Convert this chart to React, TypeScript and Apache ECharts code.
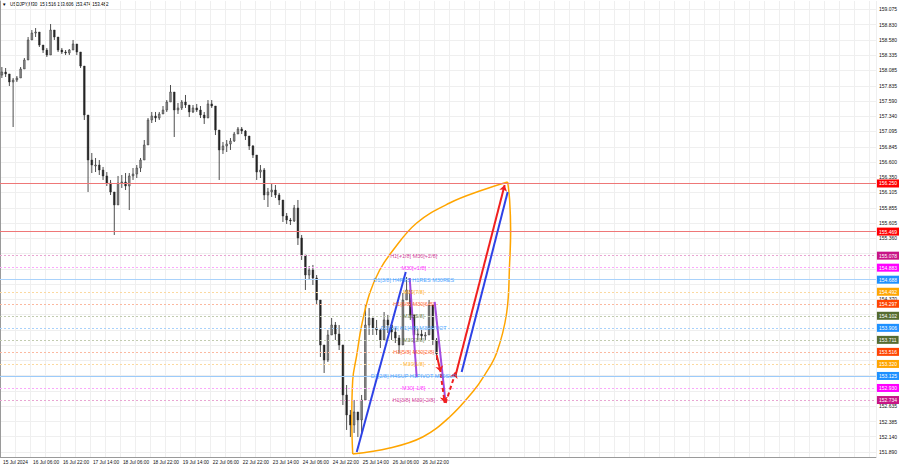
import React, { useEffect, useRef } from "react";
import * as echarts from "echarts";

// ---- price data (aggregated 4 x M30 bars per candle) ----
const firstOpen = 158.01;
const barsPerCandle = 4;
const candleHigh = [
  158.141, 158.125, 157.995, 157.963, 157.995, 158.141, 158.287, 158.628, 158.742, 158.774,
  158.612, 158.498, 158.45, 158.839, 158.709, 158.58, 158.45, 158.417, 158.433, 158.58,
  158.466, 158.287, 158.011, 157.118, 156.745, 156.664, 156.631, 156.518, 156.436, 156.307,
  156.063, 156.372, 156.388, 156.42, 156.42, 156.501, 156.55, 156.664, 156.956, 157.313,
  157.411, 157.411, 157.411, 157.508, 157.605, 157.849, 157.605, 157.557, 157.605, 157.687,
  157.508, 157.524, 157.541, 157.508, 157.411, 157.605, 157.605, 157.443, 156.956, 156.924,
  156.956, 156.988, 157.086, 157.167, 157.167, 157.118, 156.988, 156.875, 156.68, 156.55,
  156.501, 156.177, 156.242, 156.225, 156.096, 155.901, 155.771, 155.69, 155.901, 155.982,
  155.414, 155.008, 154.91, 154.927, 154.764, 154.196, 153.628, 153.871, 154.066, 154.001,
  153.952, 153.628, 152.978, 152.572, 152.735, 152.54, 152.816, 154.277, 154.228, 154.066,
  154.034, 153.904, 154.163, 154.115, 154.001, 153.904, 153.79, 154.472, 154.732, 154.488,
  154.034, 153.904, 153.871, 153.839, 154.358, 154.277, 153.741,
];
const candleLow = [
  157.963, 157.979, 157.833, 157.167, 157.898, 158.028, 158.157, 158.287, 158.58, 158.628,
  158.466, 158.369, 158.304, 158.336, 158.58, 158.385, 158.352, 158.336, 158.336, 158.482,
  158.336, 158.125, 157.281, 156.112, 156.42, 156.436, 156.388, 156.307, 156.209, 156.063,
  155.414, 155.901, 156.177, 156.144, 155.819, 156.307, 156.339, 156.436, 156.631, 156.875,
  157.232, 157.248, 157.281, 157.378, 157.411, 157.605, 157.005, 157.378, 157.443, 157.476,
  157.329, 157.394, 157.411, 157.313, 157.216, 157.411, 157.476, 157.037, 156.307, 156.729,
  156.761, 156.794, 156.924, 157.053, 157.053, 156.956, 156.794, 156.664, 156.307, 156.339,
  155.982, 155.868, 156.031, 156.014, 155.901, 155.625, 155.592, 155.576, 155.625, 155.251,
  155.008, 154.521, 154.683, 154.602, 154.277, 153.433, 153.173, 153.352, 153.839, 153.709,
  153.546, 152.653, 152.248, 152.134, 152.199, 152.134, 152.215, 152.735, 153.79, 153.79,
  153.79, 153.579, 153.79, 153.822, 153.709, 153.66, 153.498, 153.628, 154.358, 154.034,
  153.66, 153.709, 153.709, 153.709, 153.79, 153.628, 153.384,
];
const candleClose = [
  158.06, 158.028, 157.898, 157.93, 157.963, 158.109, 158.255, 158.58, 158.693, 158.709,
  158.498, 158.417, 158.336, 158.742, 158.628, 158.417, 158.385, 158.369, 158.417, 158.515,
  158.385, 158.157, 157.362, 156.631, 156.55, 156.55, 156.469, 156.372, 156.258, 156.112,
  155.901, 156.258, 156.274, 156.209, 156.372, 156.404, 156.501, 156.631, 156.875, 157.281,
  157.346, 157.313, 157.378, 157.443, 157.573, 157.735, 157.443, 157.476, 157.573, 157.524,
  157.411, 157.476, 157.443, 157.362, 157.313, 157.541, 157.508, 157.118, 156.794, 156.859,
  156.891, 156.94, 157.053, 157.135, 157.102, 157.021, 156.859, 156.712, 156.436, 156.469,
  156.063, 156.112, 156.144, 156.063, 155.982, 155.722, 155.657, 155.641, 155.852, 155.365,
  155.089, 154.764, 154.845, 154.715, 154.358, 153.628, 153.384, 153.79, 153.952, 153.806,
  153.628, 152.816, 152.491, 152.329, 152.54, 152.41, 152.735, 153.952, 154.066, 153.904,
  153.871, 153.709, 154.034, 153.952, 153.839, 153.741, 153.628, 154.358, 154.521, 154.115,
  153.79, 153.806, 153.774, 153.79, 154.277, 153.709, 153.482,
];

// ---- axes ----
const priceTicks = [
  159.075, 158.83, 158.58, 158.335, 158.085, 157.835, 157.59, 157.34, 157.095, 156.845,
  156.6, 156.35, 156.105, 155.855, 155.605, 155.36, 155.11, 154.865, 154.615, 154.37,
  154.12, 153.87, 153.625, 153.375, 153.13, 152.88, 152.635, 152.385, 152.14, 151.89,
];
// tick labels hidden behind the coloured level boxes in the reference
const hiddenTickLabels = [155.11, 154.865, 154.615, 154.12, 153.87, 153.625, 153.375, 153.13, 152.88];
const timeLabels = [
  "15 Jul 2024", "16 Jul 06:00", "16 Jul 22:00", "17 Jul 14:00", "18 Jul 06:00",
  "18 Jul 22:00", "19 Jul 14:00", "22 Jul 06:00", "22 Jul 22:00", "23 Jul 14:00",
  "24 Jul 06:00", "24 Jul 22:00", "25 Jul 14:00", "26 Jul 06:00", "26 Jul 22:00",
];
const barsPerTimeLabel = 32;
const barsPerGridLine = 16;
const xMaxBar = 935;

// ---- Murrey levels ----
const levelPrices = [155.078, 154.883, 154.688, 154.492, 154.297, 154.102, 153.906, 153.711, 153.516, 153.32, 153.125, 152.93, 152.734];
const levelTexts = [
  "H1[+1/8] M30[+2/8]", "M30[+1/8]", "D1[3/8] H4RES H1RES M30RES", "M30[7/8]", "H1[6/8] M30[6/8]",
  "M30[5/8]", "D1[2/8] H1[4/8] M30PIVOT", "M30[3/8]", "H1[5/8] M30[2/8]", "M30[1/8]",
  "D1[2/8] H4SUP H1PIVOT M30SUP", "M30[-1/8]", "H1[3/8] M30[-2/8]",
];
const levelColors = [
  "#C71585", "#FF00FF", "#1E90FF", "#FFA500", "#FF4500", "#556B2F", "#1E90FF",
  "#556B2F", "#FF4500", "#FFA500", "#1E90FF", "#FF00FF", "#C71585",
];
const levelLineColors = [
  "#E9A6D2", "#FBA8FB", "#A9D2FB", "#FBD9A0", "#FBB9A0", "#C2CCB0", "#A9D2FB",
  "#C2CCB0", "#FBB9A0", "#FBD9A0", "#9CCBFA", "#FBA8FB", "#E9A6D2",
];
const levelSolid = [false, false, true, false, false, false, false, false, false, false, true, false, false];
const levelTextBar = 441.6;
const redLevels = [156.25, 155.469];

// ---- drawings (bar index, price) ----
const leafUpper = [
  [376.5, 151.858], [375.5, 152.41], [376.5, 153.059], [380.8, 153.465], [386.1, 153.952],
  [394.7, 154.472], [405.3, 154.845], [418.1, 155.137], [444.8, 155.608], [480, 155.933],
  [515.2, 156.144], [541.9, 156.274],
];
const leafRight = [
  [541.9, 156.274], [544, 155.982], [545.1, 155.495], [544, 154.959], [540.8, 154.147],
  [530.1, 153.498], [517.3, 153.14], [504.5, 152.865], [480, 152.459], [451.2, 152.134],
  [416, 151.955], [376.5, 151.858],
];
const blueLines = [
  [[380.8, 151.89], [433.1, 154.813]],
  [[492.8, 153.189], [541.9, 156.112]],
];
const purpleLines = [
  [[437.3, 154.715], [444.8, 153.108]],
  [[464.0, 154.326], [475.7, 152.686]],
];
const redArrows = [
  [[466.1, 153.465], [470.4, 153.189]],
  [[486.4, 153.141], [538.7, 156.225]],
];
const redDashedArrows = [
  [[470.4, 153.157], [474.7, 152.686]],
  [[475.7, 152.686], [486.4, 153.189]],
];

const titleText = "USDJPY,M30  153.516 153.606 153.474 153.482";

export default function App() {
  const ref = useRef<HTMLDivElement>(null);
  useEffect(() => {
    if (!ref.current) return;
    const chart = echarts.init(ref.current, undefined, { renderer: "svg" });

    const candles = candleClose.map((c, i) => {
      const o = i === 0 ? firstOpen : candleClose[i - 1];
      const h = Math.max(candleHigh[i], o, c);
      const l = Math.min(candleLow[i], o, c);
      return [i * barsPerCandle + barsPerCandle / 2, o, c, l, h];
    });
    const labelBars = timeLabels.map((_, i) => i * barsPerTimeLabel);
    const shownTicks = priceTicks.filter((t) => !hiddenTickLabels.includes(t));

    const fontFamily = "'Liberation Sans', Arial, sans-serif";

    const priceBoxLabel = {
      show: true,
      position: "end",
      distance: 1,
      formatter: (p: any) => Number(p.value).toFixed(3),
      color: "#ffffff",
      fontSize: 5,
      fontFamily,
      padding: [2, 2, 1, 2],
    };

    const levelLineData = levelPrices.map((p, i) => ({
      yAxis: p,
      lineStyle: {
        color: levelLineColors[i],
        type: levelSolid[i] ? "solid" : [2, 2],
        width: 1,
      },
      label: { backgroundColor: levelColors[i] },
    }));
    const redLineData = redLevels.map((p) => ({
      yAxis: p,
      lineStyle: { color: "#EE7777", type: "solid", width: 1 },
      label: { backgroundColor: "#FF0000" },
    }));

    chart.setOption({
      animation: false,
      backgroundColor: "#ffffff",
      grid: { left: 0, right: 23, top: 1, bottom: 11, containLabel: false },
      xAxis: {
        type: "value",
        min: 0,
        max: xMaxBar,
        interval: barsPerGridLine,
        axisLine: { show: true, lineStyle: { color: "#9a9a9a", width: 1 } },
        axisTick: { show: false },
        axisLabel: {
          customValues: labelBars,
          formatter: (v: number) => timeLabels[Math.round(v / barsPerTimeLabel)] ?? "",
          align: "left",
          padding: [0, 0, 0, 3],
          margin: 3,
          fontSize: 4.8,
          color: "#111",
          fontFamily,
        },
        splitLine: { show: true, lineStyle: { color: "#efefef", width: 1 } },
      },
      yAxis: {
        type: "value",
        position: "right",
        min: 151.809,
        max: 159.213,
        axisLine: { show: true, lineStyle: { color: "#9a9a9a", width: 1 } },
        axisTick: { show: false, customValues: priceTicks },
        axisLabel: {
          customValues: shownTicks,
          formatter: (v: number) => v.toFixed(3),
          margin: 3,
          fontSize: 5,
          color: "#111",
          fontFamily,
        },
        splitLine: { show: true, lineStyle: { color: "#efefef", width: 1 } },
      },
      graphic: [
        { type: "text", left: 2, top: 2, style: { text: "▼", fontSize: 4.5, fill: "#000", fontFamily } },
        { type: "text", left: 10, top: 2, style: { text: titleText, fontSize: 4.5, fill: "#000", fontFamily } },
      ],
      series: [
        {
          type: "custom",
          name: "USDJPY",
          data: candles,
          encode: { x: 0, y: [1, 2, 3, 4] },
          z: 3,
          renderItem: (params: any, api: any) => {
            const x = api.value(0);
            const o = api.value(1);
            const c = api.value(2);
            const l = api.value(3);
            const h = api.value(4);
            const pO = api.coord([x, o]);
            const pC = api.coord([x, c]);
            const pL = api.coord([x, l]);
            const pH = api.coord([x, h]);
            const w = 1.7;
            const up = c >= o;
            return {
              type: "group",
              children: [
                {
                  type: "line",
                  shape: { x1: pL[0], y1: pL[1], x2: pH[0], y2: pH[1] },
                  style: { stroke: "#3a3a3a", lineWidth: 0.9 },
                },
                {
                  type: "rect",
                  shape: {
                    x: pO[0] - w / 2,
                    y: Math.min(pO[1], pC[1]),
                    width: w,
                    height: Math.max(1, Math.abs(pO[1] - pC[1])),
                  },
                  style: { fill: up ? "#8a8a8a" : "#222", stroke: "#333", lineWidth: 0.5 },
                },
              ],
            };
          },
        },
        {
          type: "line",
          name: "leafUpper",
          data: leafUpper,
          smooth: 0.4,
          showSymbol: false,
          symbol: "none",
          lineStyle: { color: "#FFA500", width: 1.5 },
          z: 4,
          markLine: {
            silent: true,
            precision: 3,
            symbol: ["none", "none"],
            z: 5,
            label: priceBoxLabel,
            data: [...redLineData, ...levelLineData],
          },
        },
        {
          type: "line",
          name: "leafRight",
          data: leafRight,
          smooth: 0.4,
          showSymbol: false,
          symbol: "none",
          lineStyle: { color: "#FFA500", width: 1.5 },
          z: 4,
        },
        {
          type: "lines",
          coordinateSystem: "cartesian2d",
          symbol: ["none", "none"],
          z: 6,
          data: [
            ...blueLines.map((c) => ({ coords: c, lineStyle: { color: "#2E42E6", width: 2, opacity: 1 } })),
            ...purpleLines.map((c) => ({ coords: c, lineStyle: { color: "#A24BE0", width: 2, opacity: 1 } })),
          ],
        },
        {
          type: "lines",
          coordinateSystem: "cartesian2d",
          symbol: ["none", "arrow"],
          symbolSize: 6,
          z: 7,
          data: redArrows.map((c) => ({ coords: c, lineStyle: { color: "#F02020", width: 2, opacity: 1 } })),
        },
        {
          type: "lines",
          coordinateSystem: "cartesian2d",
          symbol: ["none", "arrow"],
          symbolSize: 6,
          z: 7,
          data: redDashedArrows.map((c) => ({
            coords: c,
            lineStyle: { color: "#F02020", width: 2, opacity: 1, type: [4, 3] },
          })),
        },
        {
          type: "scatter",
          name: "levelText",
          symbolSize: 0.1,
          itemStyle: { color: "transparent" },
          z: 8,
          data: levelPrices.map((p, i) => ({
            value: [levelTextBar, p],
            name: levelTexts[i],
            label: { color: levelColors[i] },
          })),
          label: {
            show: true,
            position: "inside",
            formatter: "{b}",
            fontSize: 5.5,
            fontFamily,
          },
        },
      ],
    });

    return () => chart.dispose();
  }, []);

  return (
    <div
      ref={ref}
      style={{ position: "fixed", left: 0, top: 0, width: 900, height: 468, background: "#fff" }}
    />
  );
}
